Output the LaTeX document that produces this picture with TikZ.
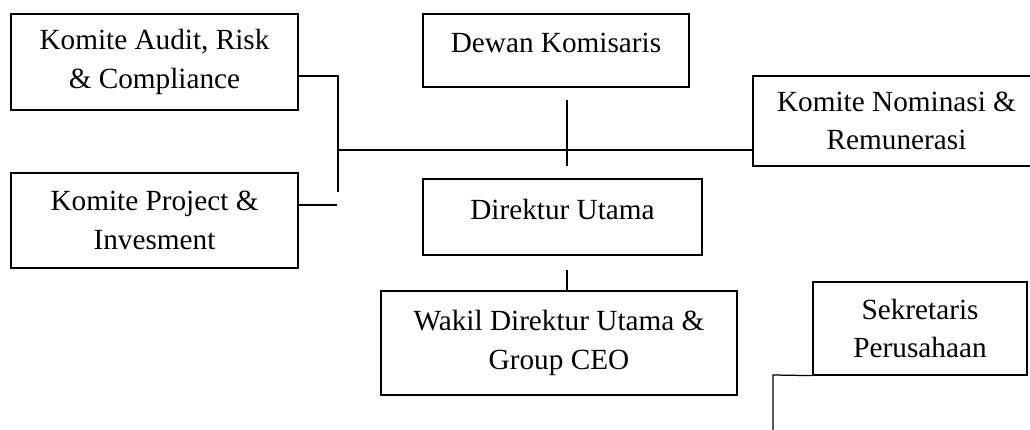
\documentclass[tikz,border=0pt]{standalone}
\usepackage{fontspec}
\setmainfont{Liberation Serif}
\tikzset{
    unit/.style={draw, line width=0.5pt, align=center, inner sep=0pt,
        font=\fontsize{11.7pt}{15.5pt}\selectfont},
    hightext/.style={text height=9pt, text depth=7pt}
}

\begin{document}
\begin{tikzpicture}[x=0.4pt,y=-0.4pt,line width=0.5pt]
                \useasboundingbox (0,0) rectangle (1030,430);
                \node[unit, minimum width=114.8pt, minimum height=38.4pt] (audit) at (154.5,62) {Komite Audit, Risk\\\& Compliance};
                \node[unit, minimum width=114.8pt, minimum height=38pt] (project) at (154.5,220.5) {Komite Project \&\\Invesment};
                \node[unit, hightext, minimum width=106.4pt, minimum height=29.2pt] (dewan) at (556,50.5) {Dewan Komisaris};
                \node[unit, minimum width=114.8pt, minimum height=36pt] (nominasi) at (896.5,121) {Komite Nominasi \&\\Remunerasi};
                \node[unit, hightext, minimum width=111.6pt, minimum height=30.4pt] (dirut) at (562.5,217) {Direktur Utama};
                \node[unit, minimum width=142.4pt, minimum height=41.6pt] (wakil) at (559,343) {Wakil Direktur Utama \&\\Group CEO};
                \node[unit, minimum width=85.6pt, minimum height=37.2pt] (sekper) at (920,328.5) {Sekretaris\\Perusahaan};
                \coordinate (ka) at (338,76);
                \coordinate (kb) at (338,192);
                \coordinate (kp) at (337,205);
                \coordinate (kh) at (338,150);
                \coordinate (vt) at (567,100);
                \coordinate (vb) at (567,166);
                \coordinate (vd) at (567,270);
                \coordinate (sk) at (773,375);
                \coordinate (skb) at (773,430);
                \draw (audit.east |- ka) -- (ka) -- (kb);
                \draw (project.east |- kp) -- (kp);
                \draw (kh) -- (nominasi.west |- kh);
                \draw (vt) -- (vb);
                \draw (vd) -- (vd |- wakil.north);
                \draw (sekper.south west) -- (sk) -- (skb);
            \end{tikzpicture}
\end{document}
